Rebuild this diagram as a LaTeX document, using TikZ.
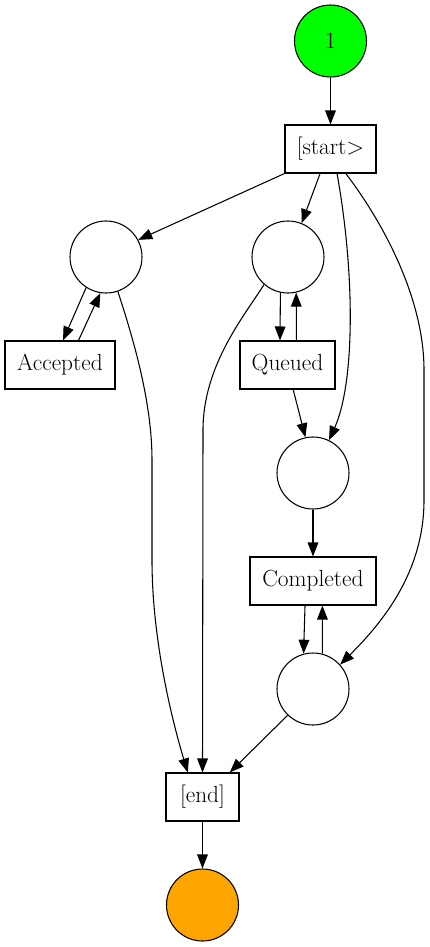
\documentclass[tikz,border=0pt]{standalone}
\usetikzlibrary{arrows.meta}
\definecolor{placegreen}{HTML}{00FF00}
\definecolor{placeorange}{HTML}{FFA500}
\begin{document}
\begin{tikzpicture}[x=0.75pt,y=0.75pt,
  line width=0.8pt,
  every node/.style={font=\fontsize{17.5}{20}\selectfont},
  place/.style={draw,circle,minimum size=54pt,inner sep=0pt},
  trans/.style={draw,rectangle,minimum height=36pt,inner sep=0pt},
  arc/.style={-{Triangle[length=10.5pt,width=8pt]}}]
\useasboundingbox (0,0) rectangle (429,-947);

% places and transitions
\node[place,fill=placegreen] (src) at (330.5,-41) {1};
\node[trans,minimum width=68.25pt] (start) at (330.5,-149) {[start>};
\node[place] (p1) at (106,-257) {};
\node[place] (p2) at (288,-257) {};
\node[trans,minimum width=82.5pt] (acc) at (60,-365) {Accepted};
\node[trans,minimum width=71.25pt] (que) at (287.5,-365) {Queued};
\node[place] (p3) at (313,-473) {};
\node[trans,minimum width=94.5pt] (comp) at (313,-581) {Completed};
\node[place] (p4) at (313,-689) {};
\node[trans,minimum width=54.75pt] (end) at (202.5,-797) {[end]};
\node[place,fill=placeorange] (sink) at (202.5,-905) {};

% arcs
\draw[arc] (src.south) -- (start.north);
\draw[arc] (start.south west) -- (p1.28);
\draw[arc] (start.-113.6) -- (p2.68);
\draw[arc] (start.-75) .. controls (356,-280) and (354,-385) .. (p3.64);
\draw[arc] (start.-58) .. controls (385,-225) and (424,-300) .. (424,-370)
  -- (424,-500) .. controls (424,-570) and (385,-620) .. (p4.42);

\draw[arc] (p1.-123) -- (acc.83);
\draw[arc] (acc.53) -- (p1.-99.5);
\draw[arc] (p1.-71) .. controls (132,-335) and (152,-400) .. (152,-460)
  -- (152,-560) .. controls (152,-640) and (172,-720) .. (end.121);

\draw[arc] (p2.-102.8) -- (que.107);
\draw[arc] (que.70.5) -- (p2.-77);
\draw[arc] (p2.-131) .. controls (245,-315) and (203,-365) .. (203,-430)
  -- (end.north);

\draw[arc] (que.-77) -- (p3.102.5);
\draw[arc] (p3.south) -- (comp.north);
\draw[arc] (comp.-108.4) -- (p4.105.5);
\draw[arc] (p4.75.5) -- (comp.-69.4);
\draw[arc] (p4.-134) -- (end.42);
\draw[arc] (end.south) -- (sink.north);
\end{tikzpicture}
\end{document}
